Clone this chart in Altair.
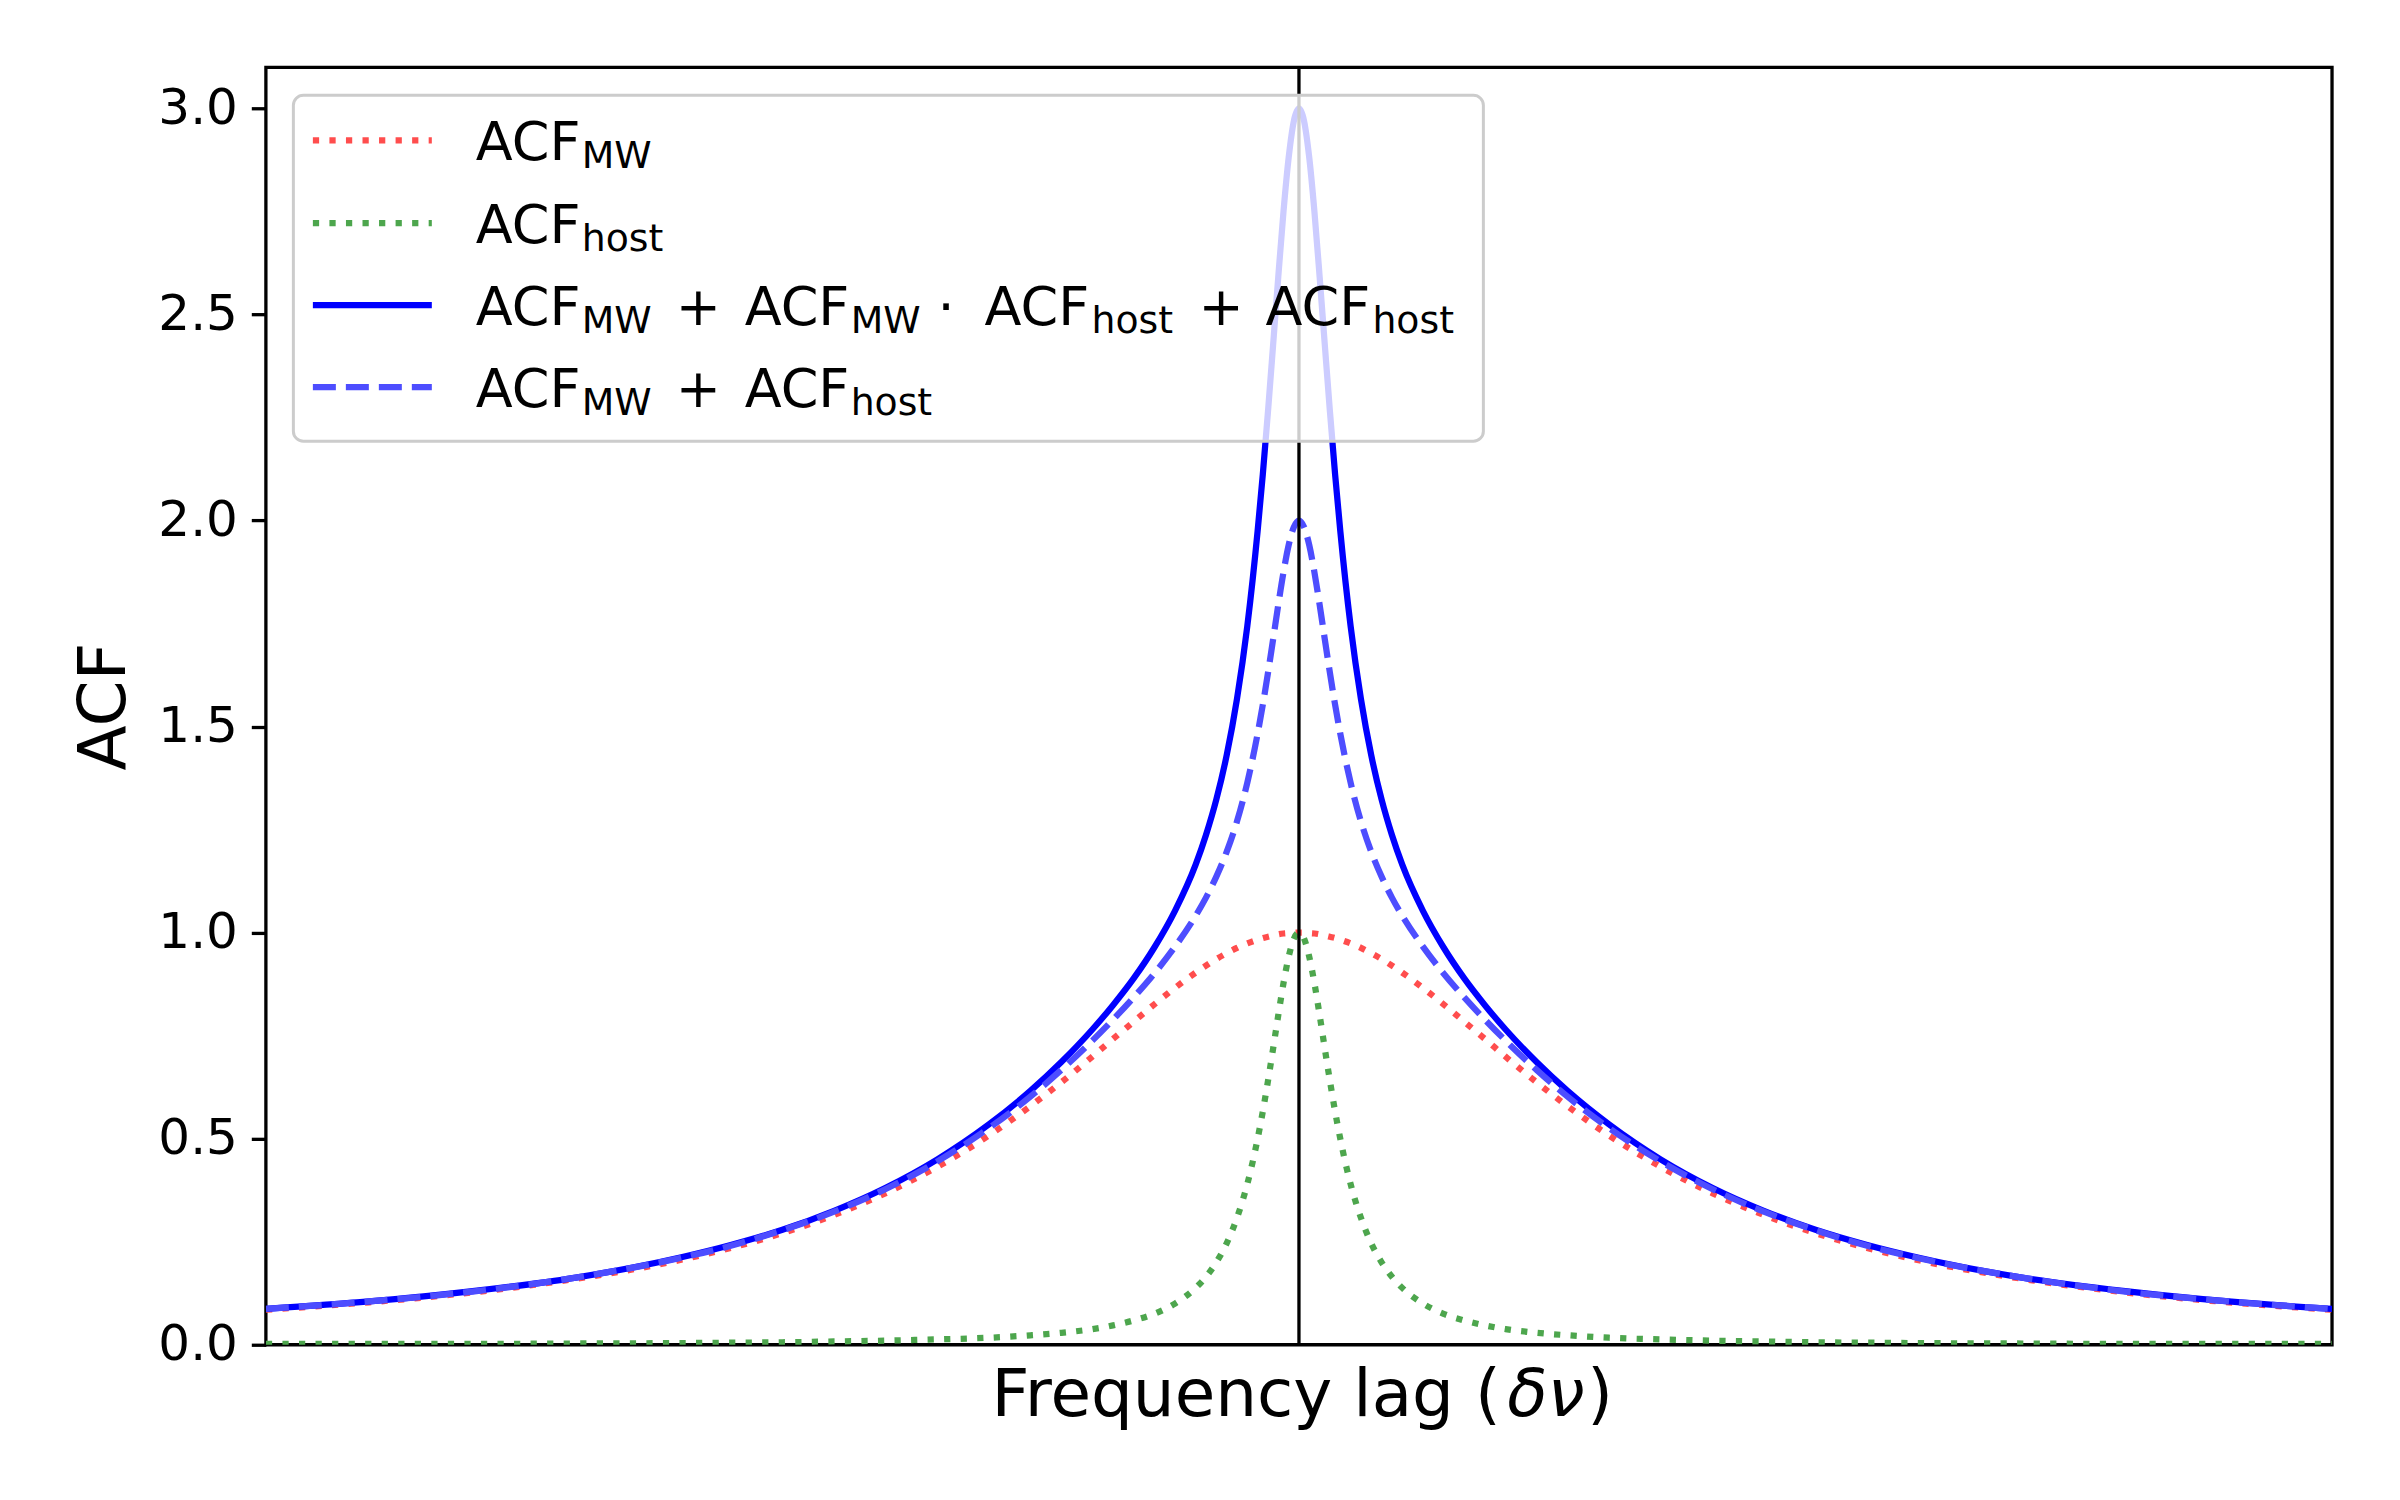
import altair as alt
import pandas as pd

# ---- data (frequency lag in arbitrary units) ----
lag = [-100, -90, -80, -70, -60, -55, -50, -45, -40, -35, -30, -26, -23, -20, -18, -16,
       -14, -12, -10, -9, -8, -7, -6, -5, -4, -3.5, -3, -2.5, -2, -1.5, -1, -0.5,
       0, 0.5, 1, 1.5, 2, 2.5, 3, 3.5, 4, 5, 6, 7, 8, 9, 10, 12, 14, 16, 18, 20,
       23, 26, 30, 35, 40, 45, 50, 55, 60, 70, 80, 90, 100]

acf_mw = [0.085, 0.103, 0.127, 0.160, 0.205, 0.235, 0.271, 0.315, 0.368, 0.432, 0.508, 0.579,
          0.637, 0.699, 0.742, 0.784, 0.826, 0.866, 0.903, 0.920, 0.936, 0.950, 0.963, 0.974,
          0.983, 0.987, 0.990, 0.993, 0.996, 0.998, 0.999, 1.000,
          1.000, 1.000, 0.999, 0.998, 0.996, 0.993, 0.990, 0.987, 0.983, 0.974, 0.963, 0.950,
          0.936, 0.920, 0.903, 0.866, 0.826, 0.784, 0.742, 0.699, 0.637, 0.579, 0.508, 0.432,
          0.368, 0.315, 0.271, 0.235, 0.205, 0.160, 0.127, 0.103, 0.085]

acf_host = [0.002, 0.002, 0.002, 0.003, 0.004, 0.005, 0.006, 0.008, 0.010, 0.013, 0.017, 0.023,
            0.029, 0.038, 0.047, 0.059, 0.075, 0.100, 0.138, 0.165, 0.200, 0.246, 0.308, 0.390,
            0.500, 0.566, 0.640, 0.719, 0.800, 0.877, 0.941, 0.985,
            1.000, 0.985, 0.941, 0.877, 0.800, 0.719, 0.640, 0.566, 0.500, 0.390, 0.308, 0.246,
            0.200, 0.165, 0.138, 0.100, 0.075, 0.059, 0.047, 0.038, 0.029, 0.023, 0.017, 0.013,
            0.010, 0.008, 0.006, 0.005, 0.004, 0.003, 0.002, 0.002, 0.002]

acf_total = [0.087, 0.105, 0.130, 0.163, 0.211, 0.242, 0.279, 0.325, 0.381, 0.450, 0.535, 0.616,
             0.686, 0.765, 0.824, 0.889, 0.964, 1.053, 1.165, 1.237, 1.323, 1.430, 1.567, 1.744,
             1.975, 2.112, 2.264, 2.427, 2.592, 2.749, 2.880, 2.969,
             3.000, 2.969, 2.880, 2.749, 2.592, 2.427, 2.264, 2.112, 1.975, 1.744, 1.567, 1.430,
             1.323, 1.237, 1.165, 1.053, 0.964, 0.889, 0.824, 0.765, 0.686, 0.616, 0.535, 0.450,
             0.381, 0.325, 0.279, 0.242, 0.211, 0.163, 0.130, 0.105, 0.087]

acf_sum = [0.087, 0.105, 0.129, 0.163, 0.210, 0.240, 0.278, 0.323, 0.378, 0.445, 0.526, 0.602,
           0.667, 0.738, 0.789, 0.843, 0.901, 0.966, 1.041, 1.085, 1.136, 1.196, 1.270, 1.364,
           1.483, 1.553, 1.630, 1.712, 1.796, 1.874, 1.940, 1.984,
           2.000, 1.984, 1.940, 1.874, 1.796, 1.712, 1.630, 1.553, 1.483, 1.364, 1.270, 1.196,
           1.136, 1.085, 1.041, 0.966, 0.901, 0.843, 0.789, 0.738, 0.667, 0.602, 0.526, 0.445,
           0.378, 0.323, 0.278, 0.240, 0.210, 0.163, 0.129, 0.105, 0.087]

y_ticks = [0.0, 0.5, 1.0, 1.5, 2.0, 2.5, 3.0]
center_lag = [0]

FONT = "DejaVu Sans"
LW = 6.25

x_enc = alt.X("lag:Q", scale=alt.Scale(domain=[-100, 100], nice=False, zero=False), axis=None)
y_scale = alt.Scale(domain=[0, 3.1], nice=False, zero=False)
y_axis = alt.Axis(values=y_ticks, format=".1f", title="ACF")


def curve(values, color, dash=None):
    df = pd.DataFrame({"lag": lag, "value": values})
    kw = dict(color=color, strokeWidth=LW, interpolate="monotone", clip=True, strokeCap="butt")
    if dash:
        kw["strokeDash"] = dash
    return alt.Chart(df).mark_line(**kw).encode(
        x=x_enc,
        y=alt.Y("value:Q", scale=y_scale, axis=y_axis),
    )


red = "#ff4d4d"
green = "#4da64d"
blue = "#0000ff"
lblue = "#4d4dff"
DOT = [6.25, 10.3]
DASH = [23, 10]

l_mw = curve(acf_mw, red, DOT)
l_host = curve(acf_host, green, DOT)
l_total = curve(acf_total, blue)
l_sum = curve(acf_sum, lblue, DASH)

vline = alt.Chart(pd.DataFrame({"lag": center_lag})).mark_rule(
    color="black", strokeWidth=3.3
).encode(x=x_enc)

one = pd.DataFrame({"k": [0]})

legend_box = alt.Chart(one).mark_rect(
    fill="white", fillOpacity=0.8, stroke="#cccccc", strokeWidth=3, cornerRadius=10
).encode(x=alt.value(27.5), x2=alt.value(1218), y=alt.value(28), y2=alt.value(374))


def sample(y, color, dash=None):
    kw = dict(color=color, strokeWidth=LW, strokeCap="butt")
    if dash:
        kw["strokeDash"] = dash
    return alt.Chart(one).mark_rule(**kw).encode(
        x=alt.value(47), x2=alt.value(166), y=alt.value(y)
    )


def txt(s, x, y, size, style="normal"):
    return alt.Chart(one).mark_text(
        text=s, font=FONT, fontSize=size, align="left", baseline="alphabetic",
        color="black", fontStyle=style
    ).encode(x=alt.value(x), y=alt.value(y))


MAIN = 54
SUB = 37.8
SH = 8

rows = [73, 156, 238, 320]
base = [93, 176, 258, 340]

legend_layers = [
    legend_box,
    sample(rows[0], red, DOT),
    sample(rows[1], green, DOT),
    sample(rows[2], blue),
    sample(rows[3], lblue, DASH),
    # row 1
    txt("ACF", 210, base[0], MAIN), txt("MW", 316, base[0] + SH, SUB),
    # row 2
    txt("ACF", 210, base[1], MAIN), txt("host", 316, base[1] + SH, SUB),
    # row 3
    txt("ACF", 210, base[2], MAIN), txt("MW", 316, base[2] + SH, SUB),
    txt("+", 410, base[2], MAIN),
    txt("ACF", 479, base[2], MAIN), txt("MW", 585, base[2] + SH, SUB),
    txt("·", 672, base[2], MAIN),
    txt("ACF", 719, base[2], MAIN), txt("host", 826, base[2] + SH, SUB),
    txt("+", 933, base[2], MAIN),
    txt("ACF", 1000, base[2], MAIN), txt("host", 1107, base[2] + SH, SUB),
    # row 4
    txt("ACF", 210, base[3], MAIN), txt("MW", 316, base[3] + SH, SUB),
    txt("+", 410, base[3], MAIN),
    txt("ACF", 479, base[3], MAIN), txt("host", 585, base[3] + SH, SUB),
]

# x-axis title with italic delta-nu
XT = 66
xtitle = [
    txt("Frequency lag (", 726, 1349, XT),
    txt("δν", 1242, 1349, XT, "italic"),
    txt(")", 1322, 1349, XT),
]

chart = alt.layer(
    l_mw, l_host, l_total, l_sum, vline, *legend_layers, *xtitle
).properties(
    width=2067,
    height=1278,
    autosize=alt.AutoSizeParams(type="none"),
    padding={"left": 258, "top": 59, "right": 60, "bottom": 140},
    background="white",
).configure_view(
    stroke="black", strokeWidth=3.3
).configure_axis(
    labelFont=FONT, labelFontSize=50, labelColor="black", labelPadding=14,
    titleFont=FONT, titleFontSize=66, titleFontWeight="normal", titleColor="black",
    titlePadding=19, tickColor="black", tickWidth=3.3, tickSize=14.6,
    domain=False, grid=False,
)

chart.save("out.html", embed_options={"renderer": "svg", "actions": False})
